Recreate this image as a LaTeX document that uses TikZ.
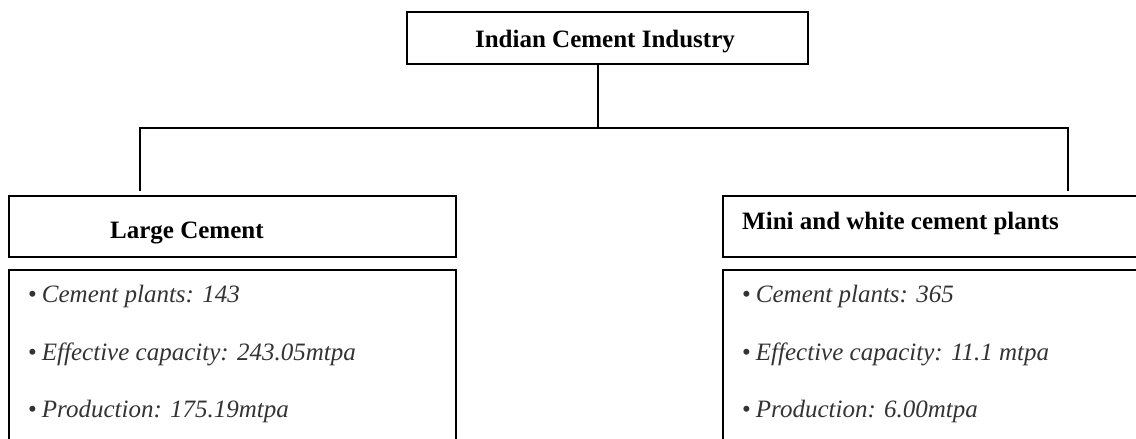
\documentclass[tikz,border=0pt]{standalone}
\usepackage{fontspec}
\setmainfont{Liberation Serif}
\begin{document}
\begin{tikzpicture}[x=1pt,y=1pt,
  boxline/.style={draw=black,line width=1.8pt},
  conn/.style={draw=black,line width=1.8pt},
  headtext/.style={font=\fontsize{25}{30}\selectfont\bfseries,inner sep=0pt,anchor=base west},
  itemtext/.style={font=\fontsize{25}{30}\selectfont\itshape,text=black!80,inner sep=0pt,anchor=base west}]
\useasboundingbox (0,0) rectangle (1136,-439);
\clip (0,0) rectangle (1136,-439);
% top box
\node[boxline,minimum width=401pt,minimum height=52pt,inner sep=0pt] (top) at (607.5,-38) {};
\node[font=\fontsize{25}{30}\selectfont\bfseries,inner sep=0pt,anchor=base] (toptxt) at (605,-47) {Indian Cement Industry};
% header boxes
\node[boxline,minimum width=447pt,minimum height=61pt,inner sep=0pt,anchor=north west] (lh) at (8,-195) {};
\node[boxline,minimum width=500pt,minimum height=61pt,inner sep=0pt,anchor=north west] (rh) at (722,-195) {};
\node[headtext] (lhtxt) at (110,-238) {Large Cement};
\node[headtext] (rhtxt) at (742,-229) {Mini and white cement plants};
% content boxes
\node[boxline,minimum width=447pt,minimum height=260pt,inner sep=0pt,anchor=north west] (lc) at (8,-269) {};
\node[boxline,minimum width=500pt,minimum height=260pt,inner sep=0pt,anchor=north west] (rc) at (722,-269) {};
% items
\node[itemtext] (l1) at (28,-302) {{\upshape\textbullet}\hspace{5pt}Cement plants: 143};
\node[itemtext] (l2) at (28,-360) {{\upshape\textbullet}\hspace{5pt}Effective capacity: 243.05mtpa};
\node[itemtext] (l3) at (28,-417) {{\upshape\textbullet}\hspace{5pt}Production: 175.19mtpa};
\node[itemtext] (r1) at (742,-302) {{\upshape\textbullet}\hspace{5pt}Cement plants: 365};
\node[itemtext] (r2) at (742,-360) {{\upshape\textbullet}\hspace{5pt}Effective capacity: 11.1 mtpa};
\node[itemtext] (r3) at (742,-417) {{\upshape\textbullet}\hspace{5pt}Production: 6.00mtpa};
% connectors
\coordinate (mid) at (598,-128);
\coordinate (lend) at (140,-191);
\coordinate (rend) at (1068,-191);
\draw[conn] (top.south -| mid) -- (mid);
\draw[conn] (lend) |- (mid) -| (rend);
\end{tikzpicture}
\end{document}
